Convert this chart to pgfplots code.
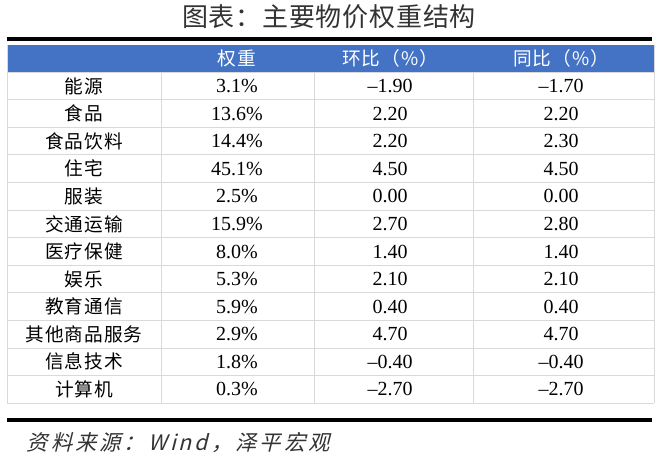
\documentclass[border=0pt]{standalone}
\usepackage{pgfplots}
\pgfplotsset{compat=1.18}
\usepackage{pgfplotstable}
\usepackage{xstring}
\usepackage{fontspec}
\setmainfont{Liberation Serif}
\newfontfamily\cjk{Noto Sans CJK SC}[LetterSpace=5]
\newfontfamily\cjktitle{Noto Sans CJK SC}[LetterSpace=3]
\newfontfamily\cjkit{Noto Sans CJK SC}[FakeSlant=0.25,LetterSpace=14]

\definecolor{headblue}{HTML}{4472C4}
\definecolor{gridgray}{HTML}{D9D9D9}
\definecolor{titlegray}{HTML}{333333}

% negative values get a longer dash, as in the source
\newcommand\fmtnum[1]{\IfBeginWith{#1}{-}{\textendash\StrGobbleLeft{#1}{1}}{#1}}

% weight (%), month-on-month (%), year-on-year (%)
\pgfplotstableread{
r label w mom yoy
1 能源 3.1 -1.90 -1.70
2 食品 13.6 2.20 2.20
3 食品饮料 14.4 2.20 2.30
4 住宅 45.1 4.50 4.50
5 服装 2.5 0.00 0.00
6 交通运输 15.9 2.70 2.80
7 医疗保健 8.0 1.40 1.40
8 娱乐 5.3 2.10 2.10
9 教育通信 5.9 0.40 0.40
10 其他商品服务 2.9 4.70 4.70
11 信息技术 1.8 -0.40 -0.40
12 计算机 0.3 -2.70 -2.70
}\cpidata

\begin{document}
\begin{tikzpicture}
\begin{axis}[
  x=0.75pt, y=0.75pt,
  xmin=0, xmax=660, ymin=0, ymax=459,
  y dir=reverse,
  hide axis,
  clip=false,
  every node near coord/.append style={anchor=center, inner sep=0pt, font=\fontsize{15}{17}\selectfont, text=black},
]
\path (axis cs:0,0) rectangle (axis cs:660,459);

% title and rules
\node[font=\cjktitle\fontsize{19.5}{23}\selectfont, text=titlegray] at (axis cs:329,15) {图表：主要物价权重结构};
\draw[line width=3pt] (axis cs:7,37) -- (axis cs:652,37);
\draw[line width=3pt] (axis cs:7,418) -- (axis cs:652,418);

% header
\fill[headblue] (axis cs:7.3,43) rectangle (axis cs:654,70.7);
\foreach \cx/\txt in {237/权重, 390/环比（\%）, 561/同比（\%）}{
  \edef\temp{\noexpand\node[font=\noexpand\cjk\noexpand\fontsize{14}{16}\noexpand\selectfont, text=white] at (axis cs:\cx,57) {\txt};}
  \temp
}

% grid
\pgfplotsinvokeforeach{1,...,12}{
  \draw[gridgray, line width=0.75pt] (axis cs:7.3,{70.7+27.58*#1}) -- (axis cs:654,{70.7+27.58*#1});
}
\draw[gridgray, line width=0.75pt] (axis cs:7.3,70.7) -- (axis cs:654,70.7);
\foreach \gx in {161,314,473}{
  \edef\temp{\noexpand\draw[gridgray, line width=0.75pt] (axis cs:\gx,70.7) -- (axis cs:\gx,401.7);}
  \temp
}
\draw[gridgray, line width=0.75pt] (axis cs:7.3,43) -- (axis cs:7.3,401.7);
\draw[gridgray, line width=0.75pt] (axis cs:654,43) -- (axis cs:654,401.7);

% columns
\addplot[draw=none, mark=none, point meta=explicit symbolic,
  nodes near coords={\cjk\fontsize{14}{16}\selectfont\pgfplotspointmeta}]
  table[x expr=84, y expr={70.7+27.58*(\thisrow{r}-0.5)}, meta=label] {\cpidata};
\addplot[draw=none, mark=none, point meta=explicit symbolic,
  nodes near coords={\pgfplotspointmeta\%}]
  table[x expr=237, y expr={70.7+27.58*(\thisrow{r}-0.5)}, meta=w] {\cpidata};
\addplot[draw=none, mark=none, point meta=explicit symbolic,
  nodes near coords={\fmtnum{\pgfplotspointmeta}}]
  table[x expr=390, y expr={70.7+27.58*(\thisrow{r}-0.5)}, meta=mom] {\cpidata};
\addplot[draw=none, mark=none, point meta=explicit symbolic,
  nodes near coords={\fmtnum{\pgfplotspointmeta}}]
  table[x expr=561, y expr={70.7+27.58*(\thisrow{r}-0.5)}, meta=yoy] {\cpidata};

% source
\node[anchor=west, font=\cjkit\fontsize{16}{18}\selectfont, text=titlegray] at (axis cs:22,441) {资料来源：Wind，泽平宏观};
\end{axis}
\end{tikzpicture}
\end{document}
